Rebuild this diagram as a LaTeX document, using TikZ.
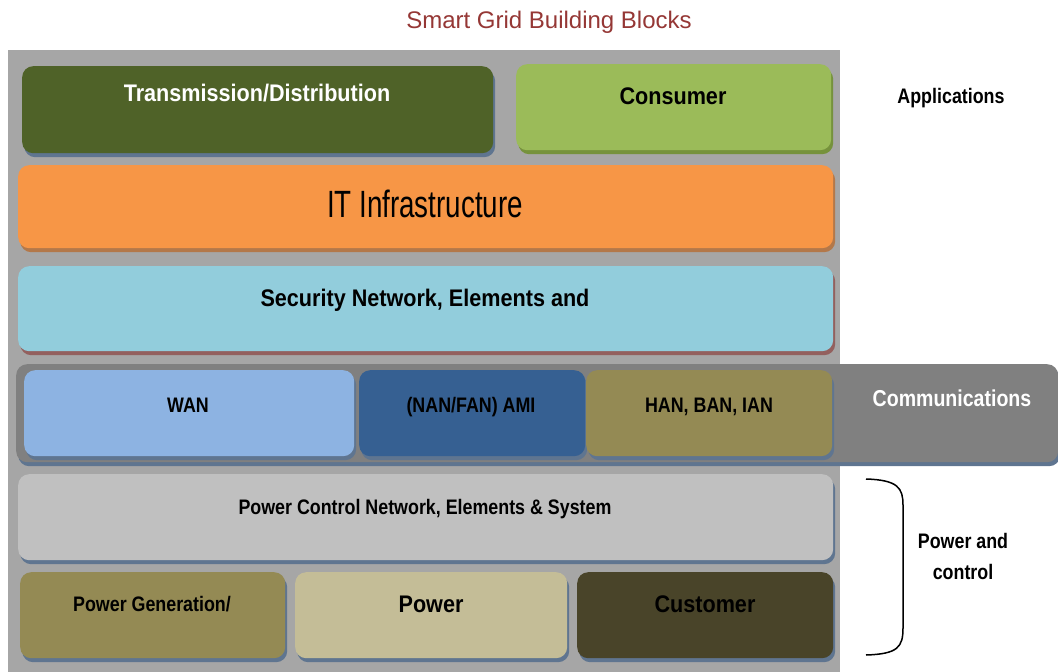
\documentclass[tikz,border=0pt]{standalone}
\usepackage{fontspec}
\setmainfont{Liberation Sans}
\newfontfamily\nar[FakeStretch=0.85]{Liberation Sans}
\newfontfamily\narl[FakeStretch=0.9]{Liberation Sans}
\newfontfamily\narit[FakeStretch=0.73]{Liberation Sans}
\usetikzlibrary{shadows}
\definecolor{bggray}{HTML}{A6A6A6}
\definecolor{tdcol}{HTML}{4F6228}
\definecolor{conscol}{HTML}{9BBB59}
\definecolor{itcol}{HTML}{F79646}
\definecolor{seccol}{HTML}{92CDDC}
\definecolor{commcol}{HTML}{808080}
\definecolor{wancol}{HTML}{8DB3E2}
\definecolor{amicol}{HTML}{366092}
\definecolor{hancol}{HTML}{948A54}
\definecolor{pccol}{HTML}{C0C0C0}
\definecolor{pgcol}{HTML}{948A54}
\definecolor{pwcol}{HTML}{C4BD97}
\definecolor{cucol}{HTML}{494429}
\definecolor{titlecol}{HTML}{953735}
\definecolor{shblue}{HTML}{5F7590}
\definecolor{shgreen}{HTML}{76923C}
\definecolor{shorange}{HTML}{B3784A}
\definecolor{shred}{HTML}{93605E}
\tikzset{
  blk/.style={rounded corners=11pt, inner sep=0pt, anchor=north west},
  shb/.style={drop shadow={shadow xshift=2pt, shadow yshift=-4pt, fill=shblue, opacity=1}},
  lbl/.style={font=\nar\bfseries\fontsize{21}{24}\selectfont, inner sep=0pt, anchor=base},
  lbll/.style={font=\narl\bfseries\fontsize{24}{28}\selectfont, inner sep=0pt, anchor=base},
}
\begin{document}
\begin{tikzpicture}[x=1pt,y=-1pt]
\useasboundingbox (0,0) rectangle (1058,672);
% title
\node[font=\fontsize{24}{28}\selectfont, text=titlecol, anchor=base] (title) at (549,28) {Smart Grid Building Blocks};
% background
\fill[bggray] (8,50) rectangle (840,672);
% applications row
\node[blk, fill=tdcol, minimum width=471pt, minimum height=87pt, shb] (td) at (22,66) {};
\node[lbll, text=white] (tdt) at (257,101) {Transmission/Distribution};
\node[blk, fill=conscol, minimum width=315pt, minimum height=86pt, drop shadow={shadow xshift=2pt, shadow yshift=-4pt, fill=shgreen, opacity=1}] (cons) at (516,64) {};
\node[lbll] (const) at (673,104) {Consumer};
\node[lbl] (appt) at (951,103) {Applications};
% IT
\node[blk, fill=itcol, minimum width=815pt, minimum height=83pt, drop shadow={shadow xshift=2pt, shadow yshift=-4pt, fill=shorange, opacity=1}] (it) at (18,165) {};
\node[lbl, font=\narit\fontsize{38}{42}\selectfont] (itt) at (425,217) {IT Infrastructure};
% security
\node[blk, fill=seccol, minimum width=815pt, minimum height=85pt, drop shadow={shadow xshift=2pt, shadow yshift=-4pt, fill=shred, opacity=1}] (sec) at (18,266) {};
\node[lbll] (sect) at (425,306) {Security Network, Elements and};
% communications band
\node[blk, fill=commcol, minimum width=1042pt, minimum height=98pt, shb] (comm) at (16,364) {};
\node[lbl, text=white, font=\nar\bfseries\fontsize{23}{26}\selectfont] (commt) at (952,406) {Communications};
\node[blk, fill=wancol, minimum width=330pt, minimum height=86pt, shb] (wan) at (24,370) {};
\node[lbl] (want) at (188,412) {WAN};
\node[blk, fill=amicol, minimum width=226pt, minimum height=86pt, shb] (ami) at (359,370) {};
\node[lbl] (amit) at (471,412) {(NAN/FAN) AMI};
\node[blk, fill=hancol, minimum width=246pt, minimum height=86pt, shb] (han) at (586,370) {};
\node[lbl] (hant) at (709,412) {HAN, BAN, IAN};
% power control
\node[blk, fill=pccol, minimum width=815pt, minimum height=86pt, shb] (pc) at (18,474) {};
\node[lbl] (pct) at (425,514) {Power Control Network, Elements \& System};
\node[blk, fill=pgcol, minimum width=265pt, minimum height=86pt, shb] (pg) at (20,572) {};
\node[lbl] (pgt) at (152,611) {Power Generation/};
\node[blk, fill=pwcol, minimum width=272pt, minimum height=86pt, shb] (pw) at (295,572) {};
\node[lbll] (pwt) at (431,612) {Power};
\node[blk, fill=cucol, minimum width=256pt, minimum height=86pt, shb] (cu) at (577,572) {};
\node[lbll] (cut) at (705,612) {Customer};
% brace
\draw[line width=1.5pt] (866,479) .. controls (898,480) and (903,488) .. (903,505) -- (903,628) .. controls (903,647) and (898,654) .. (866,655);
\node[lbl] (pandc1) at (963,548) {Power and};
\node[lbl] (pandc2) at (963,579) {control};
\end{tikzpicture}
\end{document}
